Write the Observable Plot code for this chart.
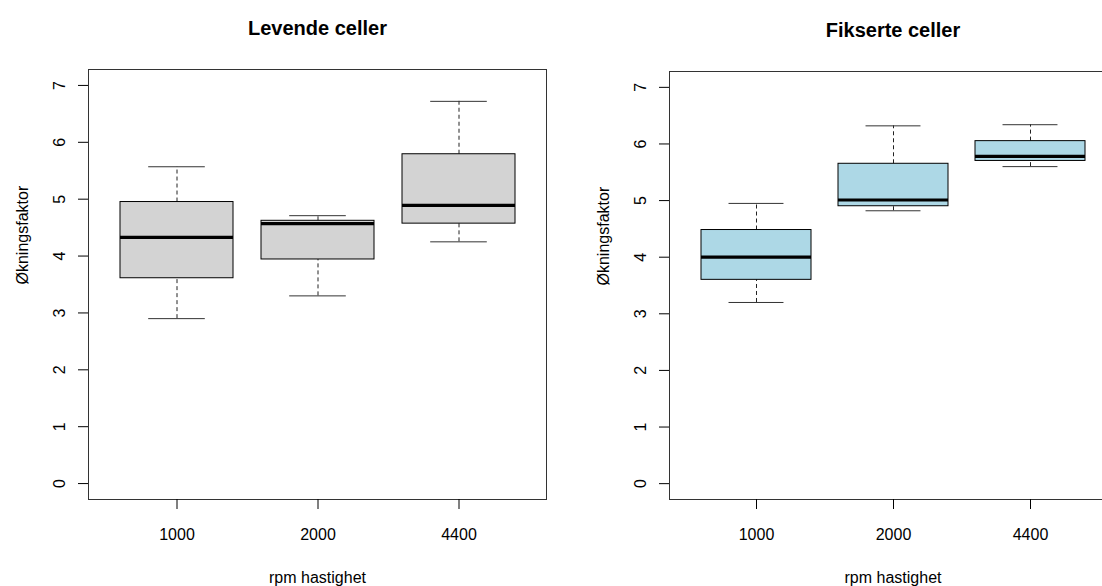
<!DOCTYPE html>
<html>
<head>
<meta charset="utf-8">
<script src="https://cdn.jsdelivr.net/npm/d3@7"></script>
<script src="https://cdn.jsdelivr.net/npm/@observablehq/plot@0.6"></script>
<style>
  html, body { margin: 0; padding: 0; background: white; }
  #wrap { position: relative; width: 1102px; height: 586px; overflow: hidden; background: white; }
  #wrap > div { position: absolute; top: 0; }
  #wrap svg { max-width: none !important; }
</style>
</head>
<body>
<div id="wrap">
  <div id="left" style="left:0px; width:551px"></div>
  <div id="right" style="left:581px; width:540px"></div>
</div>
<script>
// ---- data ----
const categories = ["1000", "2000", "4400"];
const yTicks = [0, 1, 2, 3, 4, 5, 6, 7];

const titleLive = "Levende celler";
const liveMin = [2.90, 3.30, 4.25];
const liveQ1  = [3.61, 3.94, 4.57];
const liveMed = [4.33, 4.57, 4.89];
const liveQ3  = [4.95, 4.62, 5.79];
const liveMax = [5.57, 4.71, 6.72];

const titleFixed = "Fikserte celler";
const fixMin = [3.20, 4.82, 5.60];
const fixQ1  = [3.60, 4.90, 5.70];
const fixMed = [4.00, 5.01, 5.78];
const fixQ3  = [4.48, 5.65, 6.05];
const fixMax = [4.95, 6.32, 6.34];

const yLabel = "Økningsfaktor";
const xLabel = "rpm hastighet";

function makeTable(mins, q1s, meds, q3s, maxs) {
  return categories.map((c, i) => ({cat: c, min: mins[i], q1: q1s[i], med: meds[i], q3: q3s[i], max: maxs[i]}));
}

function panel({title, rows, fill, width, marginTop}) {
  const marginLeft = 88, marginRight = 5, marginBottom = 87;
  const plotW = width - marginLeft - marginRight;
  const step = plotW / 3.248;
  const capInset = step * 0.8 / 4;
  return Plot.plot({
    width,
    height: 586,
    marginLeft, marginRight, marginTop, marginBottom,
    style: {fontFamily: "'Liberation Sans', Arial, sans-serif", fontSize: "16px", background: "white", color: "black", overflow: "visible", maxWidth: "none"},
    x: {type: "band", domain: categories, paddingInner: 0.2, paddingOuter: 0.224},
    y: {domain: [-0.28, 7.28]},
    marks: [
      Plot.ruleX(rows, {x: "cat", y1: "q3", y2: "max", stroke: "#222", strokeDasharray: "4,3"}),
      Plot.ruleX(rows, {x: "cat", y1: "min", y2: "q1", stroke: "#222", strokeDasharray: "4,3"}),
      Plot.tickY(rows, {x: "cat", y: "max", stroke: "#333", insetLeft: capInset, insetRight: capInset}),
      Plot.tickY(rows, {x: "cat", y: "min", stroke: "#333", insetLeft: capInset, insetRight: capInset}),
      Plot.barY(rows, {x: "cat", y1: "q1", y2: "q3", fill, stroke: "black", strokeWidth: 1}),
      Plot.tickY(rows, {x: "cat", y: "med", stroke: "black", strokeWidth: 3.2}),
      Plot.frame({stroke: "#333"}),
      Plot.axisX({tickSize: 10, tickPadding: 19, label: null, fontSize: 16}),
      Plot.axisY({ticks: yTicks, tickSize: 10, tickPadding: 14, tickRotate: -90, label: null, fontSize: 16}),
      Plot.text([yLabel], {text: d => d, frameAnchor: "left", dx: -61, rotate: -90, lineAnchor: "bottom", fontSize: 16}),
      Plot.text([xLabel], {text: d => d, frameAnchor: "bottom", dy: 83, lineAnchor: "bottom", fontSize: 16}),
      Plot.text([title], {text: d => d, frameAnchor: "top", dy: -35, lineAnchor: "bottom", fontSize: 20, fontWeight: "bold"})
    ]
  });
}

document.getElementById("left").appendChild(panel({
  title: titleLive, rows: makeTable(liveMin, liveQ1, liveMed, liveQ3, liveMax),
  fill: "#D3D3D3", width: 551, marginTop: 69
}));
document.getElementById("right").appendChild(panel({
  title: titleFixed, rows: makeTable(fixMin, fixQ1, fixMed, fixQ3, fixMax),
  fill: "#ADD8E6", width: 540, marginTop: 71
}));
</script>
</body>
</html>
